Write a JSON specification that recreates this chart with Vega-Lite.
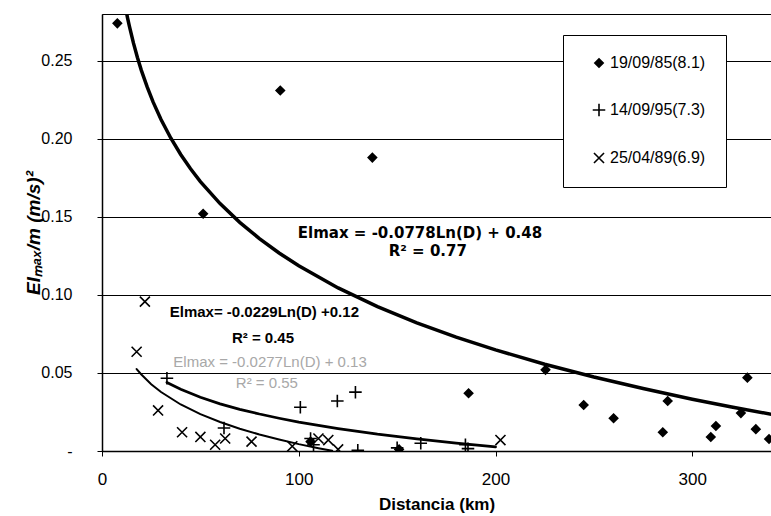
{
  "$schema": "https://vega.github.io/schema/vega-lite/v6.json",
  "width": 669,
  "height": 437,
  "autosize": {"type": "none"},
  "padding": {"left": 102, "top": 14, "right": 0, "bottom": 65},
  "background": "white",
  "config": {
    "view": {"stroke": "black", "strokeWidth": 1},
    "font": "Liberation Sans",
    "legend": {
      "orient": "none",
      "legendX": 461,
      "legendY": 21,
      "fillColor": "white",
      "strokeColor": "black",
      "padding": 20,
      "rowPadding": 29,
      "labelFontSize": 16,
      "labelFont": "Liberation Sans",
      "labelColor": "black",
      "labelOffset": 3,
      "symbolOffset": 8,
      "symbolSize": 70,
      "symbolStrokeWidth": 1.6
    }
  },
  "datasets": {
    "points": [
      {"series": "19/09/85(8.1)", "D": 7.8, "E": 0.274},
      {"series": "19/09/85(8.1)", "D": 51.4, "E": 0.152},
      {"series": "19/09/85(8.1)", "D": 90.6, "E": 0.231},
      {"series": "19/09/85(8.1)", "D": 137.4, "E": 0.188},
      {"series": "19/09/85(8.1)", "D": 186.3, "E": 0.037},
      {"series": "19/09/85(8.1)", "D": 225.4, "E": 0.052},
      {"series": "19/09/85(8.1)", "D": 244.8, "E": 0.0295},
      {"series": "19/09/85(8.1)", "D": 260, "E": 0.021},
      {"series": "19/09/85(8.1)", "D": 285, "E": 0.012},
      {"series": "19/09/85(8.1)", "D": 287.5, "E": 0.032},
      {"series": "19/09/85(8.1)", "D": 309.4, "E": 0.009},
      {"series": "19/09/85(8.1)", "D": 312, "E": 0.016},
      {"series": "19/09/85(8.1)", "D": 324.7, "E": 0.0243},
      {"series": "19/09/85(8.1)", "D": 328, "E": 0.047},
      {"series": "19/09/85(8.1)", "D": 332.3, "E": 0.014},
      {"series": "19/09/85(8.1)", "D": 339, "E": 0.0077},
      {"series": "19/09/85(8.1)", "D": 106, "E": 0.006},
      {"series": "19/09/85(8.1)", "D": 151, "E": 0.001},
      {"series": "14/09/95(7.3)", "D": 33, "E": 0.0466},
      {"series": "14/09/95(7.3)", "D": 62, "E": 0.0147},
      {"series": "14/09/95(7.3)", "D": 100.8, "E": 0.028},
      {"series": "14/09/95(7.3)", "D": 119.6, "E": 0.032},
      {"series": "14/09/95(7.3)", "D": 128.8, "E": 0.0377},
      {"series": "14/09/95(7.3)", "D": 106, "E": 0.008},
      {"series": "14/09/95(7.3)", "D": 107.5, "E": 0.004},
      {"series": "14/09/95(7.3)", "D": 130, "E": 0.0005},
      {"series": "14/09/95(7.3)", "D": 150, "E": 0.002},
      {"series": "14/09/95(7.3)", "D": 162, "E": 0.005},
      {"series": "14/09/95(7.3)", "D": 184.7, "E": 0.004},
      {"series": "14/09/95(7.3)", "D": 186, "E": 0.0015},
      {"series": "25/04/89(6.9)", "D": 17.6, "E": 0.0636},
      {"series": "25/04/89(6.9)", "D": 21.8, "E": 0.0957},
      {"series": "25/04/89(6.9)", "D": 28.5, "E": 0.026},
      {"series": "25/04/89(6.9)", "D": 40.7, "E": 0.012},
      {"series": "25/04/89(6.9)", "D": 50, "E": 0.009},
      {"series": "25/04/89(6.9)", "D": 57.5, "E": 0.004},
      {"series": "25/04/89(6.9)", "D": 62.6, "E": 0.008},
      {"series": "25/04/89(6.9)", "D": 76, "E": 0.006},
      {"series": "25/04/89(6.9)", "D": 96.7, "E": 0.003},
      {"series": "25/04/89(6.9)", "D": 110, "E": 0.008},
      {"series": "25/04/89(6.9)", "D": 115, "E": 0.007},
      {"series": "25/04/89(6.9)", "D": 120, "E": 0.001},
      {"series": "25/04/89(6.9)", "D": 202.5, "E": 0.007}
    ],
    "fits": [
      {"fit": "A", "D": 12, "E": 0.2837},
      {"fit": "A", "D": 13, "E": 0.2774},
      {"fit": "A", "D": 14, "E": 0.2717},
      {"fit": "A", "D": 16, "E": 0.2613},
      {"fit": "A", "D": 18, "E": 0.2521},
      {"fit": "A", "D": 20, "E": 0.2439},
      {"fit": "A", "D": 23, "E": 0.2331},
      {"fit": "A", "D": 26, "E": 0.2235},
      {"fit": "A", "D": 30, "E": 0.2124},
      {"fit": "A", "D": 35, "E": 0.2004},
      {"fit": "A", "D": 40, "E": 0.19},
      {"fit": "A", "D": 45, "E": 0.1808},
      {"fit": "A", "D": 50, "E": 0.1726},
      {"fit": "A", "D": 60, "E": 0.1585},
      {"fit": "A", "D": 70, "E": 0.1465},
      {"fit": "A", "D": 80, "E": 0.1361},
      {"fit": "A", "D": 90, "E": 0.1269},
      {"fit": "A", "D": 100, "E": 0.1187},
      {"fit": "A", "D": 120, "E": 0.1045},
      {"fit": "A", "D": 140, "E": 0.0925},
      {"fit": "A", "D": 160, "E": 0.0821},
      {"fit": "A", "D": 180, "E": 0.073},
      {"fit": "A", "D": 200, "E": 0.0648},
      {"fit": "A", "D": 225, "E": 0.0556},
      {"fit": "A", "D": 250, "E": 0.0474},
      {"fit": "A", "D": 275, "E": 0.04},
      {"fit": "A", "D": 300, "E": 0.0332},
      {"fit": "A", "D": 320, "E": 0.0282},
      {"fit": "A", "D": 345, "E": 0.0224},
      {"fit": "B", "D": 33, "E": 0.0439},
      {"fit": "B", "D": 40, "E": 0.0395},
      {"fit": "B", "D": 50, "E": 0.0344},
      {"fit": "B", "D": 60, "E": 0.0302},
      {"fit": "B", "D": 70, "E": 0.0267},
      {"fit": "B", "D": 80, "E": 0.0237},
      {"fit": "B", "D": 90, "E": 0.021},
      {"fit": "B", "D": 100, "E": 0.0185},
      {"fit": "B", "D": 120, "E": 0.0144},
      {"fit": "B", "D": 140, "E": 0.0108},
      {"fit": "B", "D": 160, "E": 0.0078},
      {"fit": "B", "D": 180, "E": 0.0051},
      {"fit": "B", "D": 200, "E": 0.0027},
      {"fit": "C", "D": 17.6, "E": 0.0525},
      {"fit": "C", "D": 20, "E": 0.049},
      {"fit": "C", "D": 25, "E": 0.0428},
      {"fit": "C", "D": 30, "E": 0.0378},
      {"fit": "C", "D": 40, "E": 0.0298},
      {"fit": "C", "D": 50, "E": 0.0236},
      {"fit": "C", "D": 60, "E": 0.0186},
      {"fit": "C", "D": 70, "E": 0.0143},
      {"fit": "C", "D": 80, "E": 0.0106},
      {"fit": "C", "D": 90, "E": 0.0074},
      {"fit": "C", "D": 100, "E": 0.0044},
      {"fit": "C", "D": 110, "E": 0.0018},
      {"fit": "C", "D": 117, "E": 0.0001}
    ],
    "note1": [
      {"D": 161.6, "E": 0.1398, "t": "Elmax = -0.0778Ln(D) + 0.48"},
      {"D": 165.6, "E": 0.1284, "t": "R² = 0.77"}
    ],
    "note2": [
      {"D": 82.5, "E": 0.0888, "t": "Elmax= -0.0229Ln(D) +0.12"},
      {"D": 81.8, "E": 0.0722, "t": "R² = 0.45"}
    ],
    "note3": [
      {"D": 85.4, "E": 0.0568, "t": "Elmax = -0.0277Ln(D) + 0.13"},
      {"D": 83.8, "E": 0.0434, "t": "R² = 0.55"}
    ]
  },
  "encoding": {
    "x": {
      "field": "D",
      "type": "quantitative",
      "scale": {"domain": [0, 340], "nice": false, "zero": false},
      "axis": {
        "values": [0, 100, 200, 300],
        "grid": false,
        "title": "Distancia (km)",
        "titleFont": "Liberation Sans",
        "titleFontSize": 17,
        "titleFontWeight": "bold",
        "titleColor": "black",
        "titlePadding": 9,
        "labelFontSize": 17,
        "labelColor": "black",
        "labelPadding": 15,
        "labelFlush": false,
        "tickColor": "black",
        "tickSize": 5,
        "domainColor": "black",
        "domainWidth": 1.5
      }
    },
    "y": {
      "field": "E",
      "type": "quantitative",
      "scale": {"domain": [0, 0.28], "nice": false},
      "axis": {
        "values": [0, 0.05, 0.1, 0.15, 0.2, 0.25],
        "labelExpr": "datum.value == 0 ? '-' : format(datum.value, '.2f')",
        "grid": true,
        "gridColor": "black",
        "gridWidth": 1,
        "gridOpacity": 1,
        "title": "EIₘₐₓ/m  (m/s)²",
        "titleFont": "Liberation Sans",
        "titleFontSize": 19,
        "titleFontWeight": "bold",
        "titleFontStyle": "italic",
        "titleColor": "black",
        "titlePadding": -3,
        "labelFontSize": 16,
        "labelColor": "black",
        "labelPadding": 25,
        "labelFlush": false,
        "tickColor": "black",
        "tickSize": 5,
        "domainColor": "black",
        "domainWidth": 1.5
      }
    }
  },
  "layer": [
    {
      "data": {"name": "fits"},
      "mark": {"type": "line", "clip": true, "color": "black", "strokeCap": "round"},
      "encoding": {
        "detail": {"field": "fit", "type": "nominal"},
        "strokeWidth": {
          "field": "fit",
          "type": "nominal",
          "scale": {"domain": ["A", "B", "C"], "range": [3.5, 2, 1]},
          "legend": null
        }
      }
    },
    {
      "data": {"name": "points"},
      "mark": {"type": "point", "filled": false, "strokeWidth": 1.6, "size": 70, "opacity": 1, "clip": true},
      "encoding": {
        "shape": {
          "field": "series",
          "type": "nominal",
          "scale": {
            "domain": ["19/09/85(8.1)", "14/09/95(7.3)", "25/04/89(6.9)"],
            "range": ["M-1,0L0,-1L1,0L0,1Z", "M-1.5,0L1.5,0M0,-1.5L0,1.5", "M-1.2,-1.2L1.2,1.2M-1.2,1.2L1.2,-1.2"]
          },
          "legend": {"title": null, "labelExpr": "datum.label + '\u00a0\u00a0\u00a0'"}
        },
        "fill": {
          "field": "series",
          "type": "nominal",
          "scale": {
            "domain": ["19/09/85(8.1)", "14/09/95(7.3)", "25/04/89(6.9)"],
            "range": ["black", "transparent", "transparent"]
          },
          "legend": {"title": null, "labelExpr": "datum.label + '\u00a0\u00a0\u00a0'"}
        },
        "stroke": {
          "field": "series",
          "type": "nominal",
          "scale": {
            "domain": ["19/09/85(8.1)", "14/09/95(7.3)", "25/04/89(6.9)"],
            "range": ["black", "black", "black"]
          },
          "legend": {"title": null, "labelExpr": "datum.label + '\u00a0\u00a0\u00a0'"}
        }
      }
    },
    {
      "data": {"name": "note1"},
      "mark": {"type": "text", "font": "DejaVu Sans", "fontWeight": "bold", "fontSize": 15, "color": "black", "align": "center", "baseline": "middle"},
      "encoding": {"text": {"field": "t", "type": "nominal"}}
    },
    {
      "data": {"name": "note2"},
      "mark": {"type": "text", "font": "Liberation Sans", "fontWeight": "bold", "fontSize": 15, "color": "black", "align": "center", "baseline": "middle"},
      "encoding": {"text": {"field": "t", "type": "nominal"}}
    },
    {
      "data": {"name": "note3"},
      "mark": {"type": "text", "font": "Liberation Sans", "fontSize": 15, "color": "#a8a8a8", "align": "center", "baseline": "middle"},
      "encoding": {"text": {"field": "t", "type": "nominal"}}
    }
  ]
}
